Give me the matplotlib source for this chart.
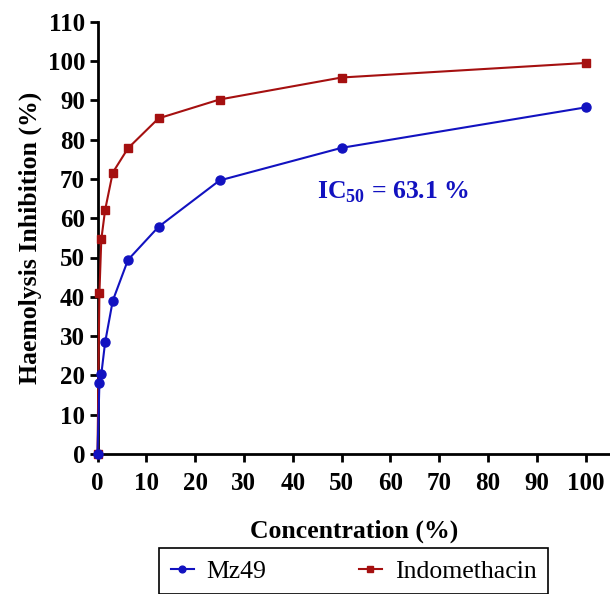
import matplotlib
matplotlib.use("Agg")
import matplotlib.pyplot as plt

conc = [0, 0.39, 0.78, 1.56, 3.125, 6.25, 12.5, 25, 50, 100]
mz49 = [0, 18.0, 20.3, 28.4, 39.0, 49.4, 57.8, 69.6, 77.9, 88.2]
indo = [0, 40.9, 54.6, 62.1, 71.6, 77.8, 85.4, 90.2, 95.8, 99.5]
xticks = list(range(0, 101, 10))
yticks = list(range(0, 111, 10))

plt.rcParams['font.family'] = ['Liberation Serif', 'DejaVu Serif']
plt.rcParams['mathtext.fontset'] = 'custom'
plt.rcParams['mathtext.rm'] = 'Liberation Serif'
plt.rcParams['mathtext.bf'] = 'Liberation Serif:bold'

fig = plt.figure(figsize=(6.10, 5.94), dpi=100)
ax = fig.add_axes([97.5/610, 1-454/594, (610-97.5)/610, (454-21.7)/594])

blue = '#1212C0'
red = '#A51010'
ax.plot(conc, mz49, color=blue, lw=1.5, marker='o', ms=6.5, label='Mz49', clip_on=False, zorder=4)
ax.plot(conc, indo, color=red, lw=1.5, marker='s', ms=6.2, label='Indomethacin', clip_on=False, zorder=3)

ax.set_xlim(0, 105)
ax.set_ylim(0, 110)
ax.set_xticks(xticks)
ax.set_yticks(yticks)
for s in ['top', 'right']:
    ax.spines[s].set_visible(False)
for s in ['left', 'bottom']:
    ax.spines[s].set_linewidth(2.0)
ax.tick_params(width=2.0, length=6, labelsize=18)
ax.tick_params(axis='x', pad=7)
ax.tick_params(axis='y', pad=3)
for lab in ax.get_xticklabels() + ax.get_yticklabels():
    lab.set_fontweight('bold')

ax.set_xlabel('Concentration (%)', fontsize=18.5, fontweight='bold', labelpad=18)
ax.set_ylabel('Haemolysis Inhibition (%)', fontsize=18.5, fontweight='bold', labelpad=4)

ax.text(60.6, 66.7, r'IC$_{\mathbf{50}}$ = 63.1 %', color=blue, fontsize=18.5, fontweight='bold',
        ha='center', va='center')

leg = fig.legend(loc='upper left', bbox_to_anchor=(159/610, 1-548/594), ncol=2, fontsize=18.5,
                 frameon=True, fancybox=False, edgecolor='black', framealpha=1,
                 handlelength=0.9, handletextpad=0.5, columnspacing=3.6, markerscale=0.75,
                 borderpad=0.45, borderaxespad=0)
leg.get_frame().set_linewidth(1.2)

fig.savefig('out.png', dpi=100)
